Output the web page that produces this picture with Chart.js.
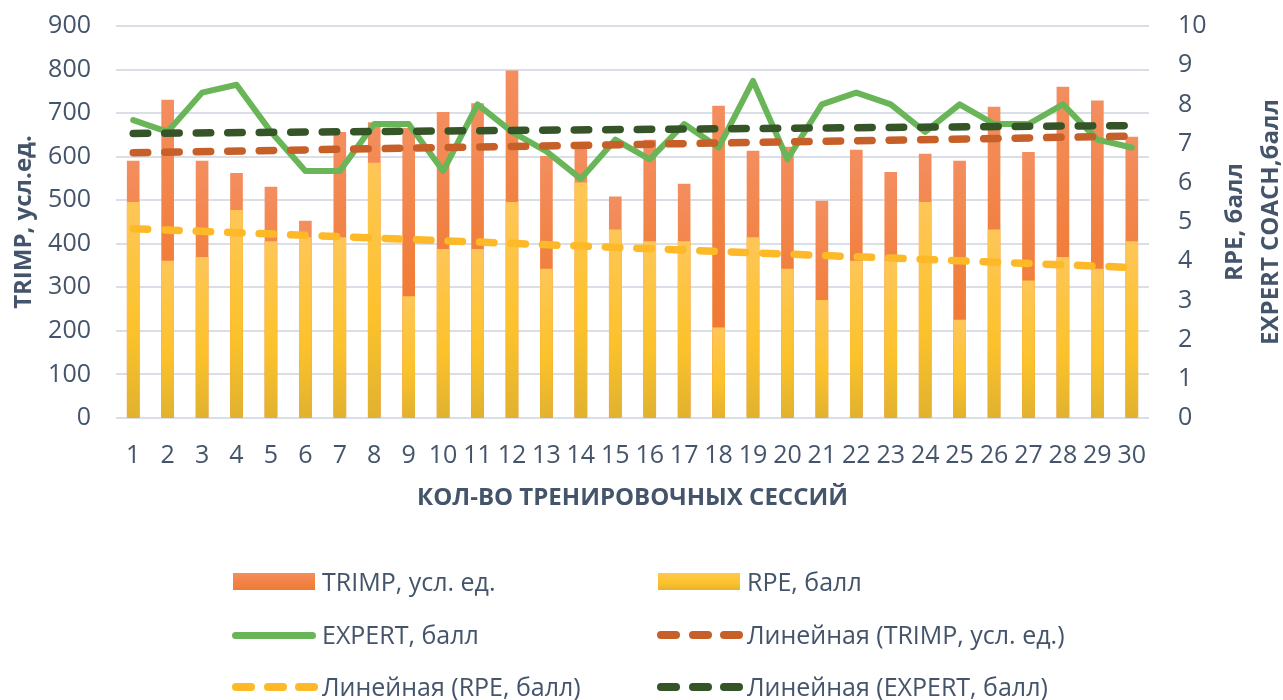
<!DOCTYPE html>
<html>
<head>
<meta charset="utf-8">
<script src="https://cdn.jsdelivr.net/npm/chart.js@4.4.1/dist/chart.umd.min.js"></script>
<style>
  body { margin: 0; background: #fff; }
  #wrap { position: relative; width: 1283px; height: 700px; }
  .lg { position: absolute; font: 25px "Open Sans"; color: #44546A; line-height: 30px; white-space: nowrap; }
  .sw { position: absolute; }
</style>
</head>
<body>
<div id="wrap">
  <canvas id="grafico" width="1283" height="700"></canvas>
  <div id="legenda"></div>
</div>
<script>
// dados
const sessoes = ['1','2','3','4','5','6','7','8','9','10','11','12','13','14','15','16','17','18','19','20','21','22','23','24','25','26','27','28','29','30'];
const trimp = [590, 730, 590, 562, 530, 452, 656, 678, 665, 702, 722, 797, 601, 626, 508, 638, 537, 716, 613, 622, 498, 615, 564, 606, 590, 714, 610, 760, 728, 645];
const rpe = [5.5, 4.0, 4.1, 5.3, 4.5, 4.6, 4.6, 6.5, 3.1, 4.3, 4.3, 5.5, 3.8, 6.0, 4.8, 4.5, 4.5, 2.3, 4.6, 3.8, 3.0, 4.0, 4.0, 5.5, 2.5, 4.8, 3.5, 4.1, 3.8, 4.5];
const expert = [7.6, 7.3, 8.3, 8.5, 7.3, 6.3, 6.3, 7.5, 7.5, 6.3, 8.0, 7.3, 6.8, 6.1, 7.1, 6.6, 7.5, 6.9, 8.6, 6.6, 8.0, 8.3, 8.0, 7.3, 8.0, 7.5, 7.5, 8.0, 7.1, 6.9];

// linhas de tendencia: valor na sessao 1 e na sessao 30
const trimpTendencia = [609, 647];
const rpeTendencia = [4.83, 3.84];
const expertTendencia = [7.26, 7.46];

const ticksTrimp = [0, 100, 200, 300, 400, 500, 600, 700, 800, 900];
const ticksBall = [0, 1, 2, 3, 4, 5, 6, 7, 8, 9, 10];

const tituloX = 'КОЛ-ВО ТРЕНИРОВОЧНЫХ СЕССИЙ';
const tituloY = 'TRIMP, усл.ед.';
const tituloY1 = ['RPE, балл', 'EXPERT COACH,балл'];
const legendas = ['TRIMP, усл. ед.', 'RPE, балл', 'EXPERT, балл', 'Линейная (TRIMP, усл. ед.)', 'Линейная (RPE, балл)', 'Линейная (EXPERT, балл)'];

const corTexto = '#44546A';
const corGrade = '#D9DEE7';

function linha(ends) {
  const arr = sessoes.map(() => null);
  arr[0] = ends[0];
  arr[arr.length - 1] = ends[1];
  return arr;
}

// gradiente por barra (do topo da barra ate o zero)
function gradiente(paradas, eixo) {
  return (c) => {
    const chart = c.chart;
    if (!chart.chartArea || c.raw == null) return paradas[0][1];
    const s = chart.scales[eixo];
    const topo = s.getPixelForValue(c.raw), base = s.getPixelForValue(0);
    const g = chart.ctx.createLinearGradient(0, topo, 0, base);
    paradas.forEach(p => g.addColorStop(p[0], p[1]));
    return g;
  };
}

const titulos = {
  id: 'titulos',
  afterDraw(chart) {
    const ctx = chart.ctx, a = chart.chartArea;
    const meioY = (a.top + a.bottom) / 2;
    ctx.save();
    ctx.fillStyle = corTexto;
    ctx.font = 'bold 24px "Open Sans"';
    ctx.textAlign = 'center';
    ctx.textBaseline = 'middle';
    ctx.fillText(tituloX, (a.left + a.right) / 2, 498);
    [[24, tituloY], [1235, tituloY1[0]], [1271, tituloY1[1]]].forEach(([x, t]) => {
      ctx.save();
      ctx.translate(x, meioY);
      ctx.rotate(-Math.PI / 2);
      ctx.fillText(t, 0, 0);
      ctx.restore();
    });
    ctx.restore();
  }
};

Chart.defaults.font.family = '"Open Sans"';
Chart.defaults.color = corTexto;

new Chart(document.getElementById('grafico'), {
  type: 'bar',
  data: {
    labels: sessoes,
    datasets: [
      {
        label: legendas[0],
        data: trimp,
        yAxisID: 'y',
        grouped: false,
        order: 5,
        barThickness: 12,
        backgroundColor: gradiente([[0, '#F48E5F'], [0.5, '#F17E3A'], [1, '#EF7428']], 'y')
      },
      {
        label: legendas[1],
        data: rpe,
        yAxisID: 'y1',
        grouped: false,
        order: 4,
        barThickness: 12,
        backgroundColor: gradiente([[0, '#FEC657'], [0.6, '#FCC22B'], [1, '#E1B22F']], 'y1')
      },
      {
        type: 'line',
        label: legendas[2],
        data: expert,
        yAxisID: 'y1',
        order: 3,
        borderColor: '#69B557',
        borderWidth: 6,
        borderJoinStyle: 'round',
        borderCapStyle: 'round',
        pointRadius: 0,
        tension: 0
      },
      {
        type: 'line',
        label: legendas[3],
        data: linha(trimpTendencia),
        yAxisID: 'y',
        order: 2,
        spanGaps: true,
        borderColor: '#C65F28',
        borderWidth: 7.5,
        borderDash: [14.5, 17],
        borderCapStyle: 'round',
        pointRadius: 0
      },
      {
        type: 'line',
        label: legendas[4],
        data: linha(rpeTendencia),
        yAxisID: 'y1',
        order: 1,
        spanGaps: true,
        borderColor: '#FDB927',
        borderWidth: 7.5,
        borderDash: [14.5, 17],
        borderCapStyle: 'round',
        pointRadius: 0
      },
      {
        type: 'line',
        label: legendas[5],
        data: linha(expertTendencia),
        yAxisID: 'y1',
        order: 0,
        spanGaps: true,
        borderColor: '#355428',
        borderWidth: 7.5,
        borderDash: [14.5, 17],
        borderCapStyle: 'round',
        pointRadius: 0
      }
    ]
  },
  options: {
    responsive: false,
    animation: false,
    devicePixelRatio: 1,
    layout: { padding: { top: 26 } },
    plugins: { legend: { display: false }, tooltip: { enabled: false } },
    scales: {
      x: {
        grid: { display: false },
        border: { display: false },
        ticks: { font: { size: 25 }, padding: 15, maxRotation: 0, autoSkip: false },
        afterFit(s) { s.height = 282; }
      },
      y: {
        position: 'left',
        min: ticksTrimp[0],
        max: ticksTrimp[ticksTrimp.length - 1],
        afterBuildTicks(s) { s.ticks = ticksTrimp.map(v => ({ value: v })); },
        grid: { color: corGrade, lineWidth: 2, drawTicks: false },
        border: { display: false },
        ticks: { font: { size: 25 }, padding: 25 },
        afterFit(s) { s.width = 116; s.paddingTop = 0; s.paddingBottom = 0; }
      },
      y1: {
        position: 'right',
        min: ticksBall[0],
        max: ticksBall[ticksBall.length - 1],
        afterBuildTicks(s) { s.ticks = ticksBall.map(v => ({ value: v })); },
        grid: { display: false, drawTicks: false },
        border: { display: false },
        ticks: { font: { size: 25 }, padding: 29 },
        afterFit(s) { s.width = 134; s.paddingTop = 0; s.paddingBottom = 0; }
      }
    }
  },
  plugins: [titulos]
});

// legenda em html (duas colunas)
const itens = [
  { t: legendas[0], tipo: 'barra', cor: 'linear-gradient(#F48D5E, #F07A31)', col: 0, lin: 0 },
  { t: legendas[1], tipo: 'barra', cor: 'linear-gradient(#FFC84C, #FCC22B 60%, #E6B22D)', col: 1, lin: 0 },
  { t: legendas[2], tipo: 'linha', cor: '#69B557', col: 0, lin: 1 },
  { t: legendas[3], tipo: 'tracos', cor: '#C65F28', col: 1, lin: 1 },
  { t: legendas[4], tipo: 'tracos', cor: '#FDB927', col: 0, lin: 2 },
  { t: legendas[5], tipo: 'tracos', cor: '#355428', col: 1, lin: 2 }
];
const colX = [232, 657];
const linY = [582, 635, 687];
const leg = document.getElementById('legenda');
itens.forEach(it => {
  const x = colX[it.col], y = linY[it.lin];
  if (it.tipo == 'barra') {
    const d = document.createElement('div');
    d.className = 'sw';
    d.style.cssText = `left:${x + 1}px;top:${y - 9}px;width:82px;height:17px;background:${it.cor};`;
    leg.appendChild(d);
  } else if (it.tipo == 'linha') {
    const d = document.createElement('div');
    d.className = 'sw';
    d.style.cssText = `left:${x}px;top:${y - 3}px;width:84px;height:7px;border-radius:4px;background:${it.cor};`;
    leg.appendChild(d);
  } else {
    for (let k = 0; k < 3; k++) {
      const d = document.createElement('div');
      d.className = 'sw';
      d.style.cssText = `left:${x + k * 31.5}px;top:${y - 4}px;width:23px;height:8px;border-radius:4px;background:${it.cor};`;
      leg.appendChild(d);
    }
  }
  const s = document.createElement('div');
  s.className = 'lg';
  s.textContent = it.t;
  s.style.left = (x + 90) + 'px';
  s.style.top = (y - 16) + 'px';
  leg.appendChild(s);
});
</script>
</body>
</html>
